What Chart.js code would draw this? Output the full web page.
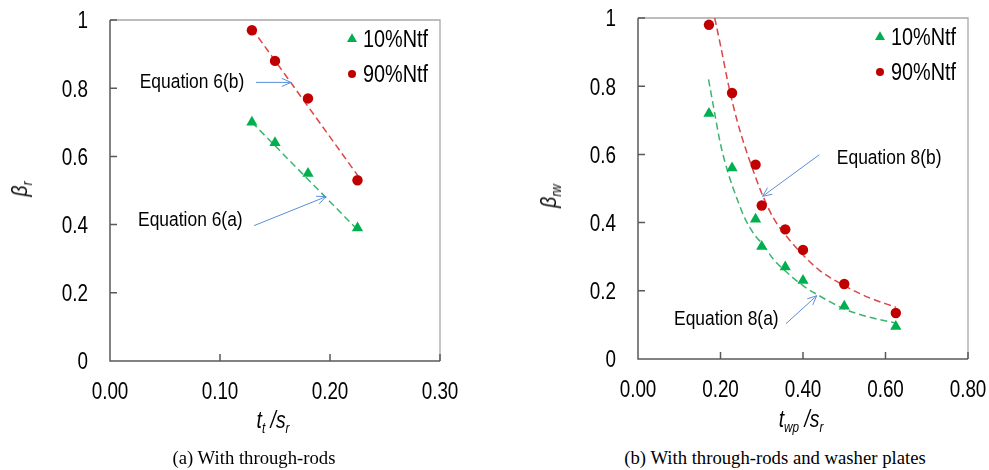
<!DOCTYPE html>
<html>
<head>
<meta charset="utf-8">
<script src="https://cdn.jsdelivr.net/npm/chart.js@4.4.0/dist/chart.umd.min.js"></script>
<style>
  body { margin: 0; background: #fff; width: 989px; height: 470px; overflow: hidden; position: relative;
         font-family: 'Liberation Sans', Arial, sans-serif; }
  .box { position: absolute; top: 0; height: 440px; }
  #boxA { left: 0; width: 500px; }
  #boxB { left: 500px; width: 489px; }
  .axtitle { position: absolute; font-style: italic; font-size: 23px; color: #000; white-space: nowrap;
             line-height: 1; transform: translate(-50%, -50%) scaleX(0.84); }
  .axtitle sub { font-size: 14px; vertical-align: -5px; }
  .axtitle.rot { transform: translate(-50%, -50%) rotate(-90deg) scaleX(0.84); }
  .caption { position: absolute; top: 447px; font-family: 'Liberation Serif', serif; font-size: 18.7px;
             color: #000; white-space: nowrap; transform: translateX(-50%); }
</style>
</head>
<body>
<div class="box" id="boxA"><canvas id="chartA"></canvas></div>
<div class="box" id="boxB"><canvas id="chartB"></canvas></div>

<div class="axtitle rot" style="left:21px; top:189px;">β<sub>r</sub></div>
<div class="axtitle" style="left:273px; top:422px;">t<sub>t</sub> /s<sub>r</sub></div>
<div class="caption" style="left:254px;">(a) With through-rods</div>

<div class="axtitle rot" style="left:550px; top:196px;">β<sub>rw</sub></div>
<div class="axtitle" style="left:801px; top:421px;">t<sub>wp</sub> /s<sub>r</sub></div>
<div class="caption" style="left:775px;">(b) With through-rods and washer plates</div>

<script>
// (a) with through-rods
const rodsX = [0.129, 0.150, 0.180, 0.225];
const rods10 = [0.70, 0.64, 0.55, 0.39];
const rods90 = [0.97, 0.88, 0.77, 0.53];
// Equation 6(a) / 6(b) dashed lines, read at their ends
const eq6aX = [0.129, 0.225];
const eq6aY = [0.70, 0.385];
const eq6bX = [0.129, 0.225];
const eq6bY = [0.975, 0.545];
const rodsXTicks = ['0.00', '0.10', '0.20', '0.30'];

// (b) with through-rods and washer plates
const washX = [0.172, 0.228, 0.285, 0.300, 0.357, 0.400, 0.500, 0.625];
const wash10 = [0.72, 0.56, 0.41, 0.33, 0.27, 0.23, 0.155, 0.095];
const wash90 = [0.98, 0.78, 0.57, 0.45, 0.38, 0.32, 0.22, 0.135];
// Equation 8(a) / 8(b) dashed curves
const eq8aX = [0.171, 0.186, 0.200, 0.220, 0.240, 0.260, 0.285, 0.300, 0.330, 0.360, 0.400, 0.433, 0.500, 0.560, 0.628];
const eq8aY = [0.82, 0.72, 0.63, 0.54, 0.47, 0.41, 0.36, 0.34, 0.29, 0.255, 0.215, 0.19, 0.147, 0.123, 0.105];
const eq8bX = [0.186, 0.200, 0.220, 0.240, 0.260, 0.280, 0.302, 0.330, 0.360, 0.400, 0.440, 0.500, 0.560, 0.625];
const eq8bY = [1.00, 0.92, 0.80, 0.70, 0.62, 0.55, 0.48, 0.41, 0.36, 0.305, 0.26, 0.215, 0.18, 0.152];
const washXTicks = ['0.00', '0.20', '0.40', '0.60', '0.80'];

const yTicks = ['0', '0.2', '0.4', '0.6', '0.8', '1'];
const seriesNames = ['10%Ntf', '90%Ntf'];

const FONT = "'Liberation Sans', Arial, sans-serif";
const GREEN = '#00b050';
const RED = '#c00000';
const GREEN_LINE = '#3cb46e';
const RED_LINE = '#dc4646';
const ARROW = '#5b8ed8';

function pts(xs, ys) {
    return xs.map((x, i) => ({ x: x, y: ys[i] }));
}

// the original uses a narrow sans face, so text is squeezed sideways
function narrowText(ctx, text, x, y, size, squeeze, align) {
    ctx.save();
    ctx.font = size + 'px ' + FONT;
    ctx.textAlign = align;
    ctx.textBaseline = 'alphabetic';
    ctx.translate(x, y);
    ctx.scale(squeeze, 1);
    ctx.fillText(text, 0, 0);
    ctx.restore();
}

// frame: dark left/bottom axes, light top/right border, ticks pointing inward
const framePlugin = {
    id: 'frame',
    beforeDatasetsDraw(chart, args, opts) {
        const { ctx, chartArea: a, scales } = chart;
        ctx.save();
        ctx.strokeStyle = '#a8a8a8';
        ctx.lineWidth = 1.3;
        ctx.beginPath();
        ctx.moveTo(a.left, a.top);
        ctx.lineTo(a.right, a.top);
        ctx.lineTo(a.right, a.bottom);
        ctx.stroke();
        ctx.strokeStyle = '#595959';
        ctx.lineWidth = 1.5;
        ctx.beginPath();
        ctx.moveTo(a.left, a.top);
        ctx.lineTo(a.left, a.bottom);
        ctx.lineTo(a.right, a.bottom);
        yTicks.forEach(t => {
            const py = scales.y.getPixelForValue(parseFloat(t));
            ctx.moveTo(a.left, py);
            ctx.lineTo(a.left + 7, py);
        });
        opts.xTicks.forEach(t => {
            const px = scales.x.getPixelForValue(parseFloat(t));
            ctx.moveTo(px, a.bottom);
            ctx.lineTo(px, a.bottom - 7);
        });
        ctx.stroke();
        ctx.restore();
    },
    afterDraw(chart, args, opts) {
        const { ctx, chartArea: a, scales } = chart;
        ctx.fillStyle = '#000';
        yTicks.forEach(t => {
            const py = scales.y.getPixelForValue(parseFloat(t));
            narrowText(ctx, t, a.left - 22, py + 8.3, 23, 0.82, 'right');
        });
        opts.xTicks.forEach(t => {
            const px = scales.x.getPixelForValue(parseFloat(t));
            narrowText(ctx, t, px, a.bottom + 37.5, 23, 0.82, 'center');
        });
    }
};

// legend in the top right corner of the plot
const cornerLegend = {
    id: 'cornerLegend',
    afterDatasetsDraw(chart, args, opts) {
        const { ctx, chartArea: a } = chart;
        chart.data.datasets.filter(d => d.inLegend).forEach((d, i) => {
            const mx = a.right - opts.right;
            const my = a.top + opts.top + i * opts.rowGap;
            ctx.save();
            ctx.fillStyle = d.backgroundColor;
            Chart.helpers.drawPoint(ctx, { pointStyle: d.pointStyle, radius: d.legendRadius, borderWidth: 0, rotation: 0 }, mx, my);
            ctx.restore();
            ctx.fillStyle = '#000';
            narrowText(ctx, d.label, mx + opts.textGap, my + 8, opts.size, 0.845, 'left');
        });
    }
};

// equation labels with thin arrows, placed in data units
const notesPlugin = {
    id: 'notes',
    afterDatasetsDraw(chart, args, opts) {
        const { ctx, scales } = chart;
        const X = v => scales.x.getPixelForValue(v);
        const Y = v => scales.y.getPixelForValue(v);
        opts.items.forEach(n => {
            ctx.fillStyle = '#000';
            narrowText(ctx, n.text, X(n.at[0]), Y(n.at[1]) + 7.3, opts.size, 0.85, 'left');
            const x0 = X(n.from[0]), y0 = Y(n.from[1]);
            const x1 = X(n.to[0]), y1 = Y(n.to[1]);
            const ang = Math.atan2(y1 - y0, x1 - x0);
            ctx.save();
            ctx.strokeStyle = ARROW;
            ctx.lineWidth = 1;
            ctx.beginPath();
            ctx.moveTo(x0, y0);
            ctx.lineTo(x1, y1);
            ctx.moveTo(x1 - 10 * Math.cos(ang - 0.42), y1 - 10 * Math.sin(ang - 0.42));
            ctx.lineTo(x1, y1);
            ctx.lineTo(x1 - 10 * Math.cos(ang + 0.42), y1 - 10 * Math.sin(ang + 0.42));
            ctx.stroke();
            ctx.restore();
        });
    }
};

function makeChart(id, cfg) {
    const ctx = document.getElementById(id).getContext('2d');
    return new Chart(ctx, {
        type: 'scatter',
        data: {
            datasets: [{
                label: seriesNames[0],
                data: pts(cfg.x, cfg.s10),
                pointStyle: 'triangle',
                pointRadius: 6.5,
                legendRadius: 5.8,
                backgroundColor: GREEN,
                borderColor: GREEN,
                borderWidth: 0,
                inLegend: true
            }, {
                label: seriesNames[1],
                data: pts(cfg.x, cfg.s90),
                pointStyle: 'circle',
                pointRadius: 5.2,
                legendRadius: 4,
                backgroundColor: RED,
                borderColor: RED,
                borderWidth: 0,
                inLegend: true
            }, {
                label: 'fit a',
                data: cfg.fitA,
                showLine: true,
                pointRadius: 0,
                borderColor: GREEN_LINE,
                borderWidth: 1.5,
                borderDash: [7, 4],
                cubicInterpolationMode: 'monotone'
            }, {
                label: 'fit b',
                data: cfg.fitB,
                showLine: true,
                pointRadius: 0,
                borderColor: RED_LINE,
                borderWidth: 1.5,
                borderDash: [7, 4],
                cubicInterpolationMode: 'monotone'
            }]
        },
        options: {
            responsive: true,
            maintainAspectRatio: false,
            animation: false,
            events: [],
            layout: { padding: cfg.padding, autoPadding: false },
            scales: {
                x: { type: 'linear', display: false, min: 0, max: cfg.xMax },
                y: { type: 'linear', display: false, min: 0, max: 1 }
            },
            plugins: {
                legend: { display: false },
                tooltip: { enabled: false },
                frame: { xTicks: cfg.xTicks },
                cornerLegend: { size: 23.5, right: 88, top: 19, rowGap: 35, textGap: 11 },
                notes: { size: 20.5, items: cfg.notes }
            }
        },
        plugins: [framePlugin, cornerLegend, notesPlugin]
    });
}

makeChart('chartA', {
    x: rodsX, s10: rods10, s90: rods90,
    fitA: pts(eq6aX, eq6aY), fitB: pts(eq6bX, eq6bY),
    xMax: 0.3, xTicks: rodsXTicks,
    padding: { top: 20, right: 60, left: 110, bottom: 79 },
    notes: [
        { text: 'Equation 6(b)', at: [0.027, 0.821], from: [0.1327, 0.817], to: [0.1645, 0.817] },
        { text: 'Equation 6(a)', at: [0.0255, 0.416], from: [0.131, 0.397], to: [0.1964, 0.482] }
    ]
});

makeChart('chartB', {
    x: washX, s10: wash10, s90: wash90,
    fitA: pts(eq8aX, eq8aY), fitB: pts(eq8bX, eq8bY),
    xMax: 0.8, xTicks: washXTicks,
    padding: { top: 18, right: 21, left: 138, bottom: 81 },
    notes: [
        { text: 'Equation 8(b)', at: [0.482, 0.594], from: [0.4396, 0.599], to: [0.302, 0.477] },
        { text: 'Equation 8(a)', at: [0.0874, 0.120], from: [0.3587, 0.1035], to: [0.4333, 0.1856] }
    ]
});
</script>
</body>
</html>
